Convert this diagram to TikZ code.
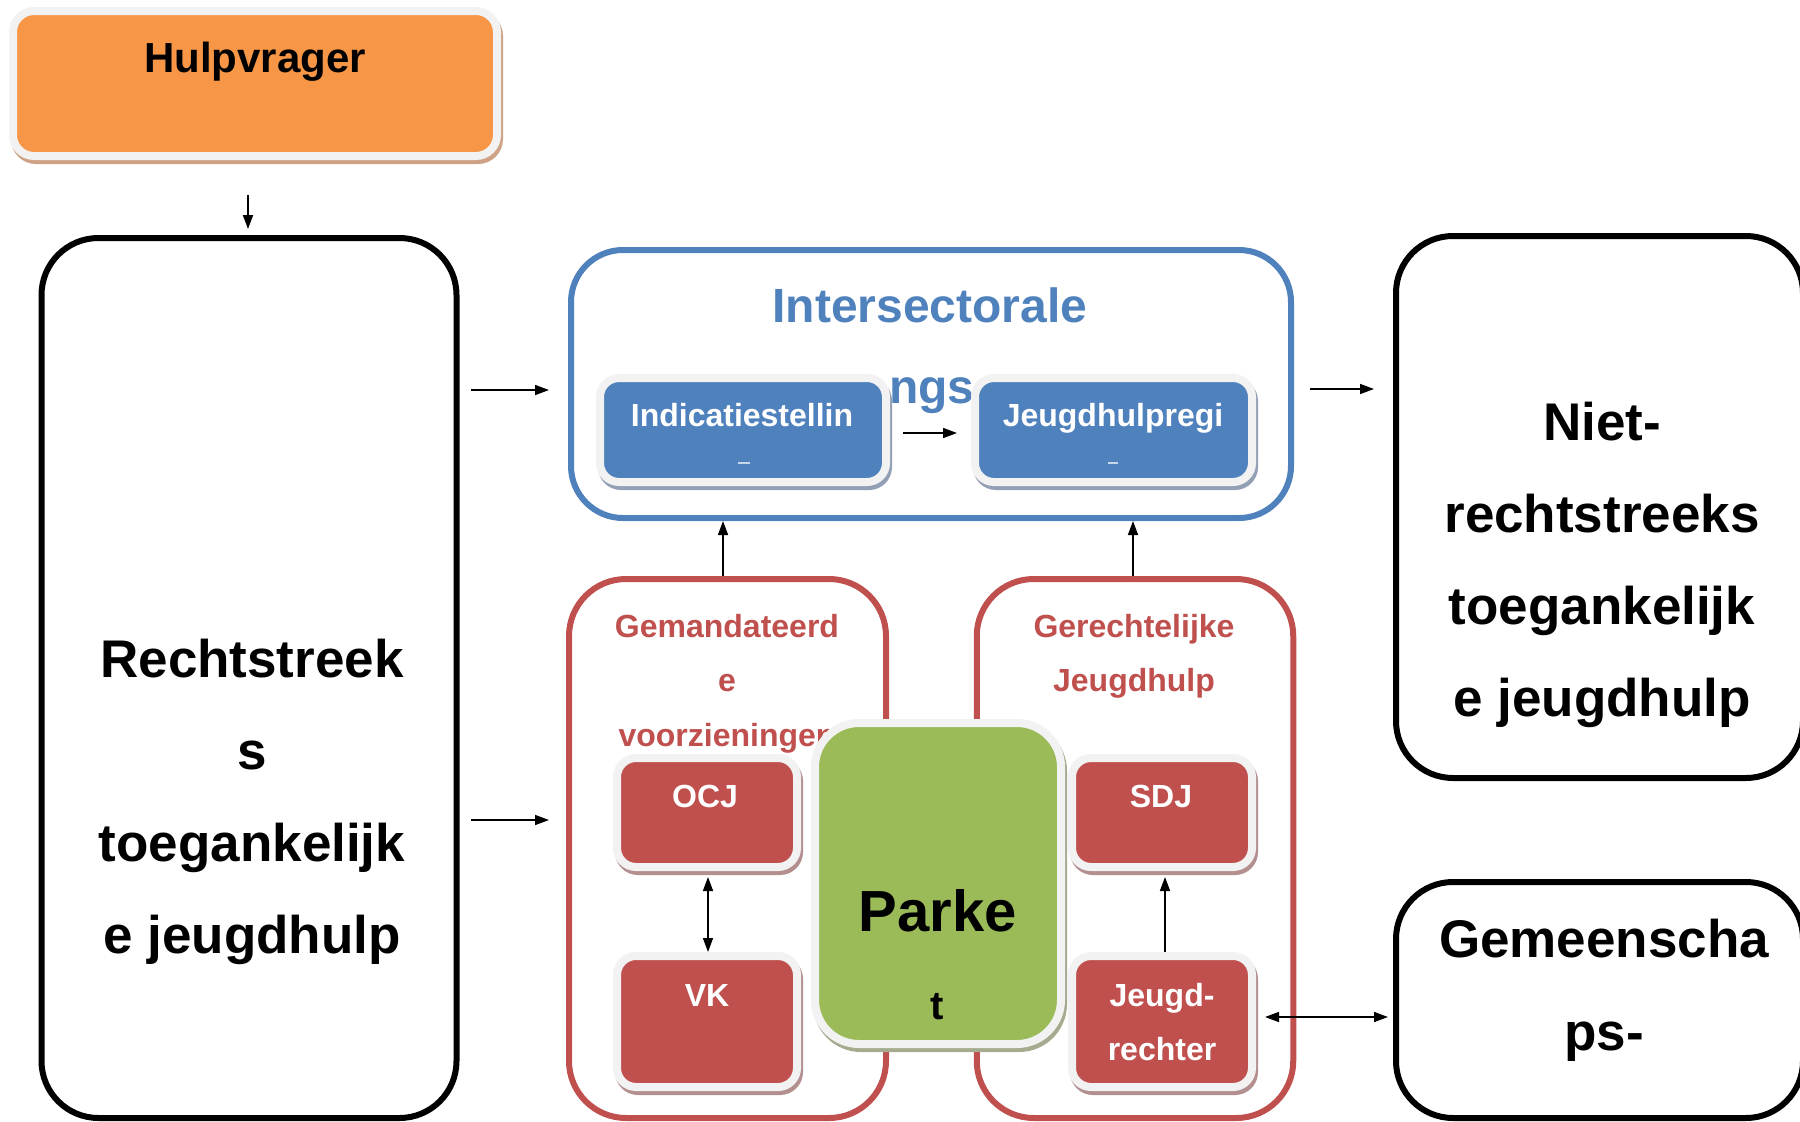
\documentclass[tikz,border=0pt]{standalone}
\usepackage{fontspec}
\setmainfont{Liberation Sans}
\usetikzlibrary{arrows.meta,shadows}
\definecolor{orangeC}{HTML}{F79646}
\definecolor{blueC}{HTML}{4F81BD}
\definecolor{redC}{HTML}{C0504D}
\definecolor{greenC}{HTML}{9BBB59}
\definecolor{bordC}{HTML}{F2F2F2}
\definecolor{shOrange}{HTML}{CDA285}
\definecolor{shBlue}{HTML}{939FB4}
\definecolor{shRed}{HTML}{B38F8F}
\definecolor{shGreen}{HTML}{A5AB8E}
\definecolor{remnant}{HTML}{C9D7EA}
\newcommand{\fsz}[1]{\fontsize{#1}{#1}\selectfont\bfseries}
\begin{document}
\begin{tikzpicture}[x=1pt,y=-1pt,
  bigbox/.style={draw=black, fill=white, line width=6pt, rounded corners=57pt, inner sep=0pt},
  inbox/.style={fill=#1, draw=bordC, line width=8pt, inner sep=0pt, rounded corners=19pt},
  shadowed/.style={drop shadow={shadow xshift=2pt, shadow yshift=-4pt, opacity=1, fill=#1, draw=#1, line width=8pt}},
  txt/.style={anchor=base, inner sep=0pt, outer sep=0pt},
  bigtxt/.style={txt, font=\fsz{53}},
  redtxt/.style={txt, font=\fsz{32}, text=redC},
  whitetxt/.style={txt, font=\fsz{32}, text=white},
  arr/.style={line width=1.6pt, -{Triangle[length=14pt,width=10pt]}},
  darr/.style={line width=1.6pt, {Triangle[length=14pt,width=10pt]}-{Triangle[length=14pt,width=10pt]}}
]
\useasboundingbox (0,0) rectangle (1800,1122);

% large outline boxes
\node[bigbox, minimum width=415pt, minimum height=880pt] (left) at (249,678) {};
\node[bigbox, draw=blueC, rounded corners=52pt, minimum width=720pt, minimum height=268pt] (blue) at (931,384) {};
\node[bigbox, draw=redC, minimum width=317pt, minimum height=539pt] (red1) at (727.5,848.5) {};
\node[bigbox, draw=redC, minimum width=316.5pt, minimum height=539pt] (red2) at (1135,848.5) {};
\node[bigbox, minimum width=407pt, minimum height=542pt] (niet) at (1599.5,507) {};
\node[bigbox, minimum width=407pt, minimum height=236pt] (gem) at (1599.5,1000) {};

% texts of large boxes
\node[bigtxt] (l1) at (252,677) {Rechtstreek};
\node[bigtxt] (l2) at (252,769) {s};
\node[bigtxt] (l3) at (252,861) {toegankelijk};
\node[bigtxt] (l4) at (252,953) {e jeugdhulp};

\node[bigtxt] (n1) at (1602,440) {Niet-};
\node[bigtxt] (n2) at (1602,532) {rechtstreeks};
\node[bigtxt] (n3) at (1602,624) {toegankelijk};
\node[bigtxt] (n4) at (1602,716) {e jeugdhulp};

\node[bigtxt] (g1) at (1604,957) {Gemeenscha};
\node[bigtxt] (g2) at (1604,1050) {ps-};

\node[txt, font=\fsz{48}, text=blueC] (b1) at (930,322) {Intersectorale};
\node[txt, font=\fsz{48}, text=blueC] (b2) at (932,403) {ngs};

\node[redtxt] (r1) at (727,637) {Gemandateerd};
\node[redtxt] (r2) at (727,691) {e};
\node[redtxt] (r3) at (727,746) {voorzieningen};
\node[redtxt] (r4) at (1134,637) {Gerechtelijke};
\node[redtxt] (r5) at (1134,691) {Jeugdhulp};

% filled boxes
\node[inbox=orangeC, shadowed=shOrange, rounded corners=21pt, minimum width=484pt, minimum height=145pt] (hulp) at (255,83.5) {};
\node[txt, font=\fsz{42}] (hulpt) at (255,72) {Hulpvrager};

\node[inbox=blueC, shadowed=shBlue, minimum width=286pt, minimum height=104pt] (ind) at (743,430) {};
\node[inbox=blueC, shadowed=shBlue, minimum width=277pt, minimum height=104pt] (jr) at (1113.5,430) {};
\node[whitetxt] (indt) at (742,426) {Indicatiestellin};
\node[whitetxt] (jrt0) at (1113,426) {Jeugdhulpregi};
\fill[remnant] (738,462) rectangle (750,464);
\fill[remnant] (1108,462) rectangle (1118,464);

\node[inbox=redC, shadowed=shRed, minimum width=180pt, minimum height=109pt] (ocj) at (707,812.5) {};
\node[inbox=redC, shadowed=shRed, minimum width=180pt, minimum height=131pt] (vk) at (707,1021.5) {};
\node[inbox=redC, shadowed=shRed, minimum width=180pt, minimum height=109pt] (sdj) at (1162,812.5) {};
\node[inbox=redC, shadowed=shRed, minimum width=180pt, minimum height=131pt] (jrt) at (1162,1021.5) {};
\node[whitetxt] (ocjt) at (705,807) {OCJ};
\node[whitetxt] (vkt) at (707,1006) {VK};
\node[whitetxt] (sdjt) at (1161,807) {SDJ};
\node[whitetxt] (jrt1) at (1162,1006) {Jeugd-};
\node[whitetxt] (jrt2) at (1162,1060) {rechter};

\node[inbox=greenC, shadowed=shGreen, rounded corners=44pt, minimum width=246pt, minimum height=321pt] (parket) at (938,883.5) {};
\node[txt, font=\fsz{58}] (pk1) at (938,931) {Parke};
\node[txt, font=\fsz{40}] (pk2) at (937,1019) {t};

% connectors
\coordinate (c1) at (248,195);
\draw[arr, shorten >=6pt] (c1) -- (c1 |- left.north);
\coordinate (c2) at (471,390);
\draw[arr, shorten >=19pt] (c2) -- (c2 -| blue.west);
\coordinate (c3) at (471,820);
\draw[arr, shorten >=17pt] (c3) -- (c3 -| red1.west);
\coordinate (c4) at (1310,389);
\draw[arr, shorten >=19pt] (c4) -- (c4 -| niet.west);
\draw[arr, shorten <=13pt, shorten >=14pt] ([yshift=-3pt]ind.east) -- ([yshift=-3pt]jr.east -| jr.west);
\draw[arr] ([xshift=-4.5pt]red1.north) -- ([xshift=-4.5pt]red1.north |- blue.south);
\draw[arr] ([xshift=-2pt]red2.north) -- ([xshift=-2pt]red2.north |- blue.south);
\draw[darr, shorten <=6pt] ([xshift=1pt]ocj.south) -- ([xshift=1pt]vk.north);
\draw[arr, shorten >=6pt] ([xshift=3pt]jrt.north) -- ([xshift=3pt]sdj.south);
\draw[darr, shorten <=9pt, shorten >=5pt] ([yshift=4.5pt]jrt.east) -- ([yshift=4.5pt]jrt.east -| gem.west);
\end{tikzpicture}
\end{document}
